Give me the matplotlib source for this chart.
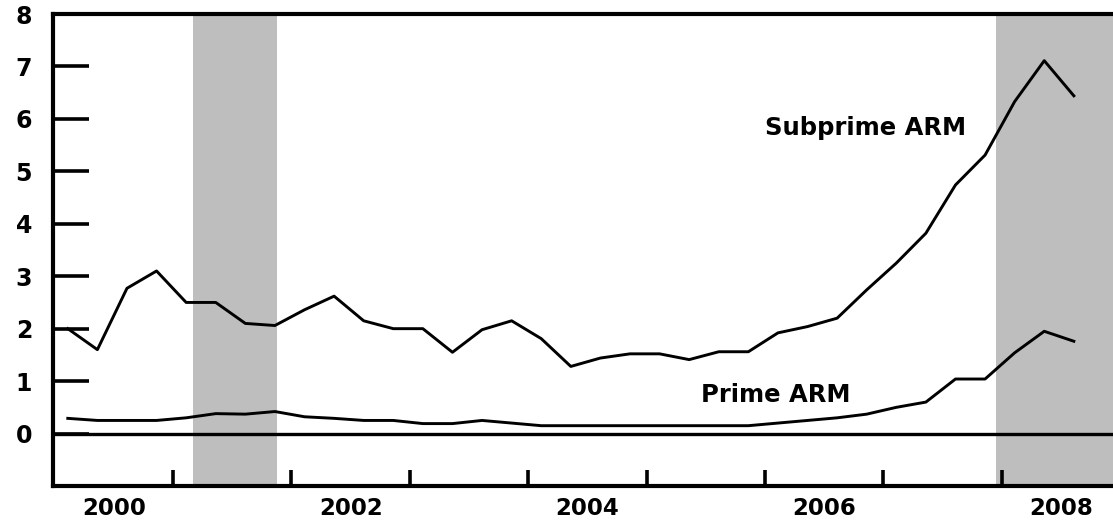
import numpy as np
import matplotlib
matplotlib.use("Agg")
import matplotlib.pyplot as plt

# quarterly delinquency-type rates, 2000Q1 .. 2008Q3
quarters = np.arange(2000.0, 2008.75, 0.25)
subprime = [2.0, 1.6, 2.77, 3.1, 2.5, 2.5, 2.1, 2.06, 2.36, 2.62, 2.15, 2.0,
            2.0, 1.55, 1.98, 2.15, 1.81, 1.28, 1.44, 1.52, 1.52, 1.41, 1.56, 1.56,
            1.92, 2.04, 2.2, 2.74, 3.25, 3.82, 4.74, 5.31, 6.33, 7.11, 6.44]
prime = [0.29, 0.25, 0.25, 0.25, 0.3, 0.38, 0.37, 0.42, 0.32, 0.29, 0.25, 0.25,
         0.19, 0.19, 0.25, 0.2, 0.15, 0.15, 0.15, 0.15, 0.15, 0.15, 0.15, 0.15,
         0.2, 0.25, 0.3, 0.37, 0.5, 0.6, 1.04, 1.04, 1.54, 1.95, 1.76]
recessions = [(2001.17, 2001.88), (2007.95, 2009.5)]
year_ticks = list(range(2001, 2009))
year_labels = ["2000", "2002", "2004", "2006", "2008"]
y_ticks = list(range(0, 9))

plt.rcParams.update({
    "font.family": "DejaVu Sans",
    "font.weight": "bold",
})

fig = plt.figure(figsize=(11.13, 5.23), dpi=100)
ax = fig.add_axes([53 / 1113, 37 / 523, 1067 / 1113, 472 / 523])

for x0, x1 in recessions:
    ax.axvspan(x0, x1, color="#bebebe", lw=0, zorder=0)

x = quarters + 0.11
ax.plot(x, subprime, color="black", lw=2.1, zorder=3)
ax.plot(x, prime, color="black", lw=2.1, zorder=3)
ax.axhline(0, color="black", lw=2.4, zorder=2)

ax.set_xlim(1999.985, 2009.0)
ax.set_ylim(-1, 8)

ax.set_xticks(year_ticks)
ax.set_xticklabels([])
ax.set_xticks([int(y) + 0.5 for y in year_labels], minor=True)
ax.set_xticklabels(year_labels, minor=True)
ax.tick_params(axis="x", which="major", direction="in", length=11.5, width=2.6)
ax.tick_params(axis="x", which="minor", length=0, pad=8, labelsize=16.5)

ax.set_yticks(y_ticks)
ax.set_yticklabels([str(v) for v in y_ticks])
ax.tick_params(axis="y", direction="in", length=26, width=2.6, pad=15, labelsize=17)

for side in ("left", "bottom", "top"):
    ax.spines[side].set_linewidth(3.0)
ax.spines["right"].set_visible(False)

ax.text(2007.70, 5.83, "Subprime ARM", ha="right", va="center",
        fontsize=17.5, fontweight="bold")
ax.text(2006.72, 0.74, "Prime ARM", ha="right", va="center",
        fontsize=17.5, fontweight="bold")

fig.savefig("out.png", dpi=100)
